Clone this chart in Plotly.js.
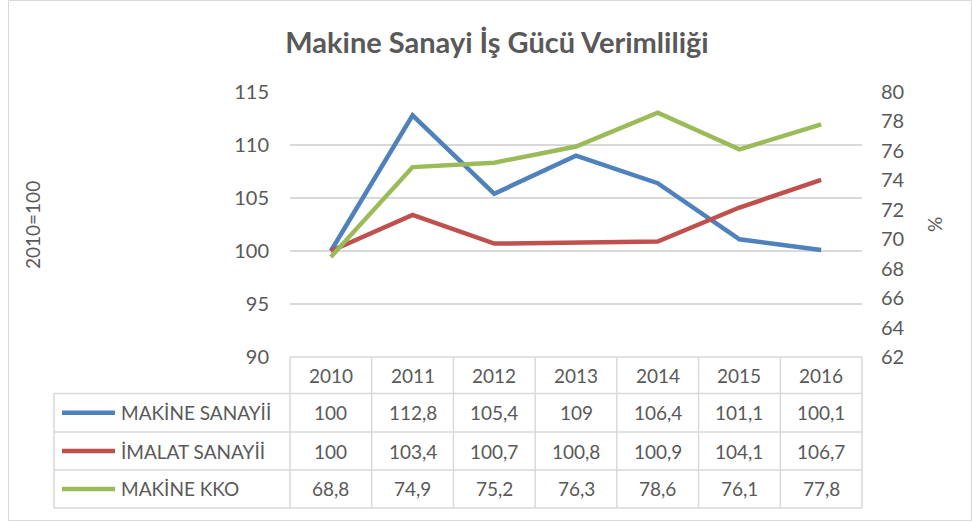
<!DOCTYPE html>
<html>
<head>
<meta charset="utf-8">
<script src="https://cdn.plot.ly/plotly-2.35.2.min.js"></script>
<style>html,body{margin:0;padding:0;background:#fff;}#chart{width:972px;height:522px;}</style>
</head>
<body>
<div id="chart"></div>
<script>
const years = ['2010','2011','2012','2013','2014','2015','2016'];
const seriesNames = ['MAKİNE SANAYİİ', 'İMALAT SANAYİİ', 'MAKİNE KKO'];
const makineSanayi = [100, 112.8, 105.4, 109, 106.4, 101.1, 100.1];
const imalatSanayi = [100, 103.4, 100.7, 100.8, 100.9, 104.1, 106.7];
const makineKKO = [68.8, 74.9, 75.2, 76.3, 78.6, 76.1, 77.8];
const leftTicks = [90, 95, 100, 105, 110, 115];
const rightTicks = [62, 64, 66, 68, 70, 72, 74, 76, 78, 80];

const colors = ['#4F81BD', '#C0504D', '#9BBB59'];
const textColor = '#595959';
const gridColor = '#D9D9D9';
const font = 'Lato, "Open Sans", sans-serif';
const fs = 19;

// plot area in pixels
const W = 972, Hh = 522;
const L = 290, R = 862, T = 92, B = 357;
const pw = R - L, ph = B - T;
const px = x => (x - L) / pw;
const py = y => (B - y) / ph;

const allSeries = [makineSanayi, imalatSanayi, makineKKO];
const traces = allSeries.map((vals, i) => ({
  x: years, y: vals, type: 'scatter', mode: 'lines',
  name: seriesNames[i],
  yaxis: i === 2 ? 'y2' : 'y',
  line: {color: colors[i], width: 4.5},
  hoverinfo: 'skip'
}));

const fmt = v => String(v).replace('.', ',');

const shapes = [];
const annotations = [];

// outer chart border
shapes.push({type:'rect', xref:'paper', yref:'paper', x0:px(8.5), x1:px(971.5), y0:py(520.5), y1:py(0.5),
  line:{color:gridColor, width:1}, fillcolor:'rgba(0,0,0,0)', layer:'below'});

// table geometry
const rowLines = [357, 393.5, 432, 470, 508];
const tableLeft = 54;
const n = years.length;
rowLines.forEach((yy, k) => {
  shapes.push({type:'line', xref:'paper', yref:'paper', x0: k === 0 ? 0 : px(tableLeft), x1: 1, y0: py(yy), y1: py(yy),
    line:{color:gridColor, width:1.5}});
});
for (let k = 0; k <= n; k++) {
  shapes.push({type:'line', xref:'paper', yref:'paper', x0: k / n, x1: k / n, y0: py(rowLines[0]), y1: py(rowLines[4]),
    line:{color:gridColor, width:1.5}});
}
shapes.push({type:'line', xref:'paper', yref:'paper', x0: px(tableLeft), x1: px(tableLeft), y0: py(rowLines[1]), y1: py(rowLines[4]),
  line:{color:gridColor, width:1.5}});

// header years (category index positions on the x axis)
years.forEach((yr, j) => {
  annotations.push({x: j, xref:'x', y: py((rowLines[0] + rowLines[1]) / 2), yref:'paper', text: yr, showarrow:false,
    xanchor:'center', yanchor:'middle', font:{family:font, size:fs, color:textColor}});
});
allSeries.forEach((vals, i) => {
  const yc = py((rowLines[i + 1] + rowLines[i + 2]) / 2);
  shapes.push({type:'line', xref:'paper', yref:'paper', x0: px(62), x1: px(115), y0: yc, y1: yc,
    line:{color:colors[i], width:4.5}});
  annotations.push({x: px(119), xref:'paper', y: yc, yref:'paper', text: seriesNames[i], showarrow:false,
    xanchor:'left', yanchor:'middle', font:{family:font, size:fs, color:textColor}});
  vals.forEach((v, j) => {
    annotations.push({x: j, xref:'x', y: yc, yref:'paper', text: fmt(v), showarrow:false,
      xanchor:'center', yanchor:'middle', font:{family:font, size:fs, color:textColor}});
  });
});

// axis titles
annotations.push({x: px(32), xref:'paper', y: py(225), yref:'paper', text:'2010=100', textangle:-90, showarrow:false,
  xanchor:'center', yanchor:'middle', font:{family:font, size:fs, color:textColor}});
annotations.push({x: px(934), xref:'paper', y: py(225), yref:'paper', text:'%', textangle:-90, showarrow:false,
  xanchor:'center', yanchor:'middle', font:{family:font, size:fs, color:textColor}});

const layout = {
  width: W, height: Hh,
  margin: {l: L, r: W - R, t: T, b: Hh - B, pad: 0},
  paper_bgcolor: '#fff', plot_bgcolor: '#fff',
  showlegend: false,
  title: {text: 'Makine Sanayi İş Gücü Verimliliği', x: 497 / W, xanchor: 'center', y: 1 - 43 / Hh, yanchor: 'middle',
    font: {family: font, size: 29, color: textColor, weight: 'bold'}},
  xaxis: {type: 'category', range: [-0.5, n - 0.5], showticklabels: false, showgrid: false, zeroline: false,
    showline: false, ticks: '', fixedrange: true},
  yaxis: {range: [90, 115], tickvals: leftTicks, showgrid: true, gridcolor: gridColor, gridwidth: 1.5,
    zeroline: false, showline: false, ticks: '', ticklabelstandoff: 20,
    tickfont: {family: font, size: 20, color: textColor}},
  yaxis2: {range: [62, 80], tickvals: rightTicks, overlaying: 'y', side: 'right', showgrid: false, zeroline: false,
    showline: false, ticks: '', ticklabelstandoff: 18,
    tickfont: {family: font, size: 20, color: textColor}},
  shapes: shapes,
  annotations: annotations
};

Plotly.newPlot('chart', traces, layout, {displayModeBar: false, staticPlot: true});
</script>
</body>
</html>
